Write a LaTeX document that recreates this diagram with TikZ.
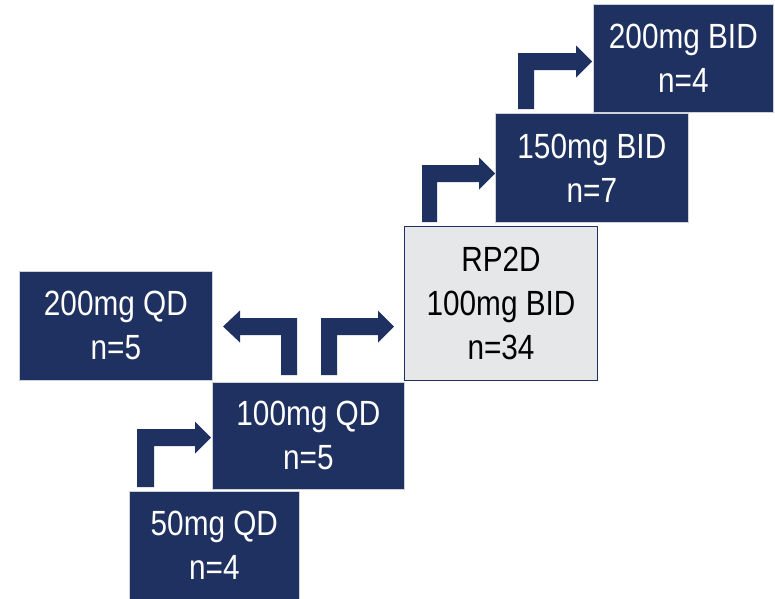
\documentclass[tikz,border=0pt]{standalone}
\usepackage{fontspec}
\setmainfont{Liberation Sans}
\newfontfamily\narrowfont[FakeStretch=0.85]{Liberation Sans}
\definecolor{navy}{RGB}{31,49,96}
\definecolor{lightgr}{RGB}{230,231,233}
\definecolor{edgegr}{RGB}{205,208,215}
\newcommand\bendR[5]{% stem left x, stem bottom y, bar top y, tip x, stem width
  \fill[navy] (#1,#2) -- (#1,#3) -- ({#4-16},#3) -- ({#4-16},{#3-7.5}) -- (#4,{#3+8.5})
    -- ({#4-16},{#3+24.5}) -- ({#4-16},{#3+17}) -- ({#1+#5},{#3+17}) -- ({#1+#5},#2) -- cycle;}
\begin{document}
\begin{tikzpicture}[x=1pt,y=-1pt,
  box/.style={fill=navy,draw=edgegr,line width=0.7pt,text=white,align=center,
    inner sep=0pt,anchor=north west,font=\narrowfont\fontsize{35}{44}\selectfont},
  rpbox/.style={box,fill=lightgr,draw=navy,line width=1pt,text=black}]
\useasboundingbox (0,0) rectangle (775,598);
\node[box,minimum width=193pt,minimum height=109pt] (q200) at (19,271) {200mg QD\\n=5};
\node[box,minimum width=192pt,minimum height=107pt] (q100) at (212,382) {100mg QD\\n=5};
\node[box,minimum width=170pt,minimum height=108pt] (q50) at (129,491) {50mg QD\\n=4};
\node[rpbox,minimum width=193pt,minimum height=154pt] (rp) at (404,226) {RP2D\\100mg BID\\n=34};
\node[box,minimum width=193pt,minimum height=109pt] (b150) at (495,113) {150mg BID\\n=7};
\node[box,minimum width=180pt,minimum height=108pt] (b200) at (593,4) {200mg BID\\n=4};
% bent arrows
\bendR{137}{487}{429}{211}{17}
\bendR{321}{375}{318}{394}{16}
\bendR{422}{222}{165}{495}{15}
\bendR{518}{109}{53}{592}{16}
\fill[navy] (297,375) -- (297,318) -- (240,318) -- (240,310.5) -- (223,326.5) -- (240,342.5)
  -- (240,335) -- (281,335) -- (281,375) -- cycle;
\end{tikzpicture}
\end{document}
